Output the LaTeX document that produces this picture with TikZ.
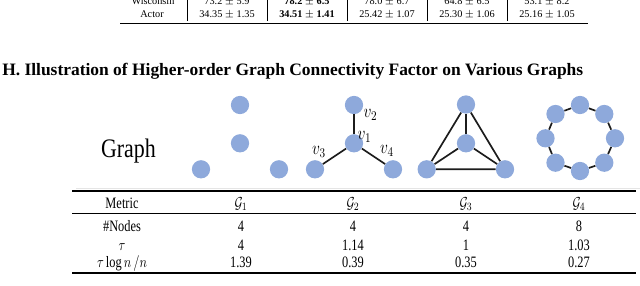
\RequirePackage{fix-cm}
\documentclass[tikz,border=0pt]{standalone}
\usepackage{amsmath}
\usepackage{fontspec}
\setmainfont{Liberation Serif}
\usepackage{tikz}
\usetikzlibrary{positioning}

\definecolor{nodeblue}{HTML}{8EA9DB}
\definecolor{edgegray}{HTML}{1C1C1C}

\tikzset{
	vtx/.style={circle, fill=nodeblue, minimum size=13, inner sep=0pt},
	gedge/.style={draw=edgegray, line width=1.2pt},
	papertxt/.style={anchor=base, inner sep=0pt, font=\fontsize{7.3}{8}\selectfont},
	figtxt/.style={anchor=base, inner sep=0pt, xscale=0.78, font=\fontsize{11.3}{13}\selectfont},
	vlab/.style={inner sep=0pt, xscale=0.82, font=\fontsize{13.5}{15}\selectfont},
}

\begin{document}
\begin{tikzpicture}[x=0.025cm, y=-0.025cm]
	\useasboundingbox (0, 0) rectangle (640, 285);
	% Tail of the previous table:
	\node[papertxt](W0) at (153, 4){Wisconsin};
	\node[papertxt](W1) at (227, 4){73.2 $\pm$ 5.9};
	\node[papertxt](W2) at (307, 4){\bfseries 78.2 $\pm$ 6.5};
	\node[papertxt](W3) at (387, 4){78.0 $\pm$ 6.7};
	\node[papertxt](W4) at (467, 4){64.8 $\pm$ 6.5};
	\node[papertxt](W5) at (547, 4){53.1 $\pm$ 8.2};
	\node[papertxt](A0) at (152, 17){Actor};
	\node[papertxt](A1) at (227, 17){34.35 $\pm$ 1.35};
	\node[papertxt](A2) at (307, 17){\bfseries 34.51 $\pm$ 1.41};
	\node[papertxt](A3) at (387, 17){25.42 $\pm$ 1.07};
	\node[papertxt](A4) at (467, 17){25.30 $\pm$ 1.06};
	\node[papertxt](A5) at (547, 17){25.16 $\pm$ 1.05};
	\draw[line width=0.4pt] (187, -2) -- (187, 21);
	\draw[line width=0.4pt] (267, -2) -- (267, 21);
	\draw[line width=0.4pt] (347, -2) -- (347, 21);
	\draw[line width=0.4pt] (427, -2) -- (427, 21);
	\draw[line width=0.4pt] (507, -2) -- (507, 21);
	\draw[line width=1pt] (120, 23.5) -- (588, 23.5);

	% Section title:
	\node[anchor=base west, inner sep=0pt, font=\bfseries\fontsize{12.4}{14}\selectfont](T) at (2, 75)
		{H. Illustration of Higher-order Graph Connectivity Factor on Various Graphs};

	% Graphs:
	\node[anchor=base, inner sep=0pt, xscale=0.82, font=\fontsize{19}{22}\selectfont](GL) at (128.5, 157){Graph};

	\node[vtx](a1) at (240, 105){};
	\node[vtx](a2) at (240, 143.3){};
	\node[vtx](a3) at (201, 169.3){};
	\node[vtx](a4) at (279, 169.3){};

	\node[vtx](v1) at (354, 143.3){};
	\node[vtx](v2) at (354, 105){};
	\node[vtx](v3) at (315, 169.3){};
	\node[vtx](v4) at (393, 169.3){};
	\draw[gedge] (v1) -- (v2);
	\draw[gedge] (v1) -- (v3);
	\draw[gedge] (v1) -- (v4);
	\node[vlab](l1) at (364.5, 137){$v_1$};
	\node[vlab](l2) at (370.5, 115){$v_2$};
	\node[vlab](l3) at (319, 151.5){$v_3$};
	\node[vlab](l4) at (387, 151){$v_4$};

	\node[vtx](t1) at (466, 104.5){};
	\node[vtx](t2) at (466, 143.3){};
	\node[vtx](t3) at (426.7, 169.3){};
	\node[vtx](t4) at (505, 169.3){};
	\draw[gedge] (t1) -- (t3) -- (t4) -- (t1);
	\draw[gedge] (t2) -- (t1);
	\draw[gedge] (t2) -- (t3);
	\draw[gedge] (t2) -- (t4);

	\node[vtx](c1) at (580, 105){};
	\node[vtx](c2) at (604.3, 114){};
	\node[vtx](c3) at (615, 138.3){};
	\node[vtx](c4) at (604.3, 162.7){};
	\node[vtx](c5) at (580, 171){};
	\node[vtx](c6) at (555.5, 162.7){};
	\node[vtx](c7) at (545.5, 138.3){};
	\node[vtx](c8) at (555.5, 114){};
	\draw[gedge] (c1) -- (c2) -- (c3) -- (c4) -- (c5) -- (c6) -- (c7) -- (c8) -- (c1);

	\draw[black!10, line width=0.6pt] (76, 188.7) -- (640, 188.7);

	% Metric table:
	\draw[line width=1.2pt] (72, 191) -- (636, 191);
	\draw[line width=0.6pt] (72, 213.3) -- (636, 213.3);
	\draw[line width=1.2pt] (72, 272.7) -- (636, 272.7);

	\node[figtxt](m0) at (122, 208){Metric};
	\node[figtxt](m1) at (241, 208){$\mathcal{G}_1$};
	\node[figtxt](m2) at (353, 208){$\mathcal{G}_2$};
	\node[figtxt](m3) at (466, 208){$\mathcal{G}_3$};
	\node[figtxt](m4) at (579, 208){$\mathcal{G}_4$};

	\node[figtxt](n0) at (122, 231){\#Nodes};
	\node[figtxt](n1) at (241, 231){4};
	\node[figtxt](n2) at (353, 231){4};
	\node[figtxt](n3) at (466, 231){4};
	\node[figtxt](n4) at (579, 231){8};

	\node[figtxt](r0) at (122, 250){$\tau$};
	\node[figtxt](r1) at (241, 250){4};
	\node[figtxt](r2) at (353, 250){1.14};
	\node[figtxt](r3) at (466, 250){1};
	\node[figtxt](r4) at (579, 250){1.03};

	\node[figtxt](s0) at (122, 267.5){$\tau\log n\,/n$};
	\node[figtxt](s1) at (241, 267.5){1.39};
	\node[figtxt](s2) at (353, 267.5){0.39};
	\node[figtxt](s3) at (466, 267.5){0.35};
	\node[figtxt](s4) at (579, 267.5){0.27};
\end{tikzpicture}
\end{document}
